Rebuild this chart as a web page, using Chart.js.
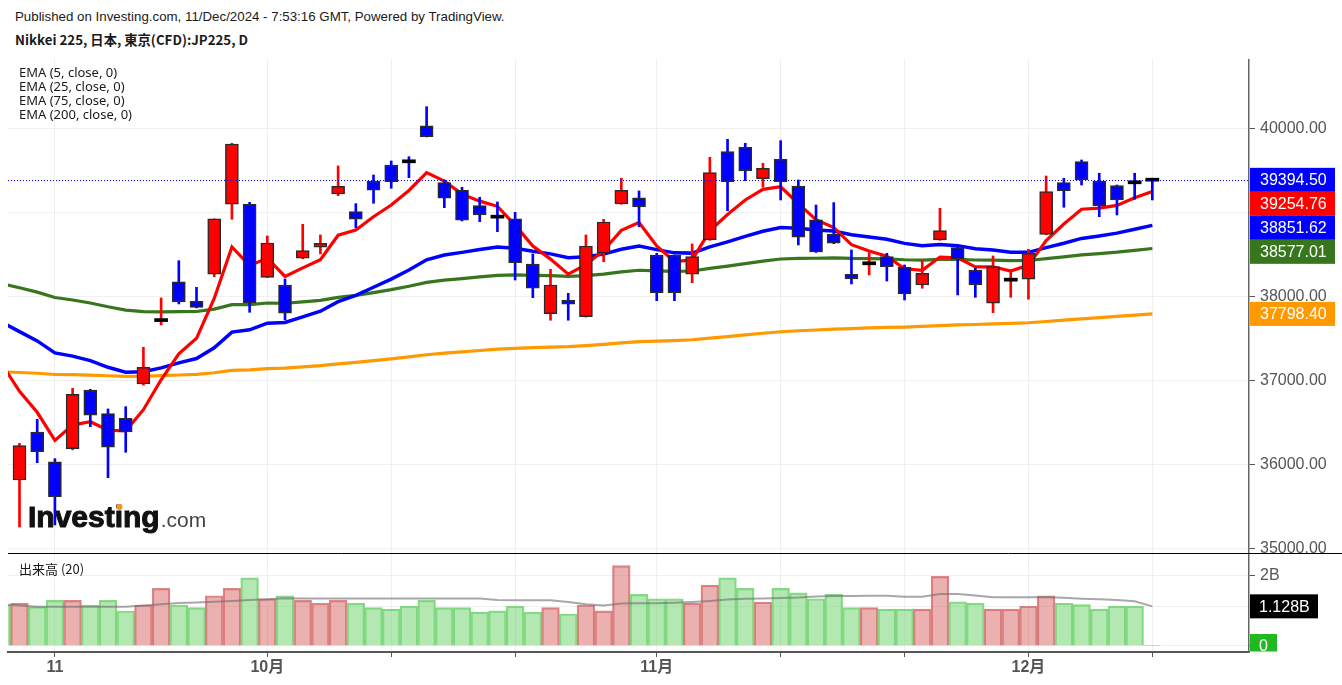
<!DOCTYPE html>
<html>
<head>
<meta charset="utf-8">
<script src="https://cdn.jsdelivr.net/npm/chart.js@4.4.1/dist/chart.umd.min.js"></script>
<style>
  body { margin: 0; background: #fff; width: 1342px; height: 685px; overflow: hidden; position: relative; font-family: "Liberation Sans", Arial, sans-serif; }
  .txt { position: absolute; white-space: nowrap; color: #1a1a1a; }
  #main { position: absolute; left: 0; top: 59px; }
  #vol { position: absolute; left: 0; top: 553px; }
</style>
</head>
<body>
<canvas id="main" width="1342" height="494"></canvas>
<canvas id="vol" width="1342" height="132"></canvas>

<div class="txt" style="left:15px;top:9px;font-size:13.3px;line-height:16px;">Published on Investing.com, 11/Dec/2024 - 7:53:16 GMT, Powered by TradingView.</div>
<div class="txt" style="left:15px;top:32px;font-size:13.3px;line-height:16px;font-weight:bold;font-family:'Noto Sans CJK JP','Noto Sans',sans-serif;">Nikkei 225, 日本, 東京(CFD):JP225, D</div>
<div class="txt" style="left:19px;top:65px;font-size:13px;line-height:14px;font-family:'Noto Sans',sans-serif;">EMA (5, close, 0)<br>EMA (25, close, 0)<br>EMA (75, close, 0)<br>EMA (200, close, 0)</div>
<div class="txt" style="left:19px;top:561px;font-size:13px;line-height:16px;font-family:'Noto Sans CJK JP','Noto Sans',sans-serif;">出来高 (20)</div>

<script>
// ===== dados =====
// candles (índice 0 .. 64, 1 por pregão)
const opens  = [35821, 36393, 36036, 36194, 36893, 36611, 36556, 36964, 37720, 38179,
                37949, 38270, 39104, 39104, 38234, 38143, 38461, 38592, 39226, 39016,
                39381, 39571, 39620, 40036, 39361, 39270, 39087, 38960, 38929, 38393,
                37801, 37964, 37765, 38520, 39107, 39179, 38500, 38500, 38270, 38679,
                39730, 39782, 39408, 39639, 39321, 38917, 38746, 38270, 38398, 38480,
                38354, 38143, 38679, 38587, 38321, 37925, 38203, 38211, 38746, 39361,
                39611, 39381, 39325, 39368, 39398];
const highs  = [36258, 36544, 36075, 36913, 36901, 36667, 36694, 37401, 37988, 38432,
                38115, 38930, 39830, 39127, 38726, 38214, 38865, 38738, 39560, 39111,
                39452, 39619, 39670, 40265, 39393, 39306, 39187, 39131, 39008, 38512,
                38330, 38044, 38738, 38925, 39413, 39262, 38520, 38500, 38631, 39663,
                39877, 39830, 39592, 39861, 39393, 39095, 39123, 38560, 38527, 38520,
                38381, 38432, 39056, 38599, 38342, 38488, 38330, 38568, 39440, 39413,
                39631, 39473, 39333, 39473, 39413];
const lows   = [35262, 36027, 35286, 36180, 36456, 35849, 36151, 36950, 37667, 37917,
                37870, 38242, 38925, 37818, 38230, 37726, 38455, 38512, 39206, 38825,
                39115, 39294, 39420, 39905, 39063, 38905, 38896, 38777, 38202, 37992,
                37723, 37723, 37760, 38420, 39105, 38837, 37956, 37956, 38170, 38675,
                39027, 39385, 39306, 39155, 38619, 38530, 38635, 38155, 38262, 38190,
                37964, 38104, 38675, 38024, 37996, 37813, 37996, 37973, 38740, 39068,
                39333, 38956, 38976, 39163, 39155];
const closes = [36230, 36158, 35623, 36842, 36592, 36211, 36393, 37163, 37730, 37940,
                37877, 38929, 39821, 37929, 38643, 37806, 38551, 38639, 39318, 38925,
                39270, 39373, 39610, 39908, 39175, 38913, 38976, 38952, 38408, 38104,
                38143, 37913, 38607, 38893, 39270, 39071, 38051, 38051, 38480, 39480,
                39373, 39500, 39532, 39373, 38711, 38536, 38639, 38214, 38404, 38361,
                38036, 38282, 38790, 38449, 38143, 38361, 38209, 38520, 39254, 39265,
                39393, 39087, 39155, 39362, 39394.5];

// médias (índice -1 .. 64, começam antes da borda esquerda)
const ema5   = [37200, 36877, 36627, 36292, 36475, 36514, 36413, 36406, 36658, 37014,
                37323, 37508, 37982, 38595, 38373, 38463, 38244, 38346, 38444, 38735,
                38798, 38955, 39094, 39268, 39481, 39379, 39224, 39141, 39079, 38855,
                38605, 38451, 38272, 38384, 38554, 38793, 38886, 38608, 38422, 38441,
                38787, 38982, 39155, 39281, 39312, 39112, 38920, 38826, 38622, 38548,
                38486, 38336, 38318, 38475, 38466, 38358, 38359, 38308, 38379, 38671,
                38869, 39044, 39058, 39090, 39182, 39255];
const ema25  = [37700, 37587, 37477, 37334, 37296, 37242, 37163, 37104, 37109, 37156,
                37216, 37267, 37395, 37582, 37609, 37688, 37697, 37763, 37830, 37944,
                38020, 38116, 38213, 38321, 38443, 38499, 38531, 38565, 38595, 38581,
                38544, 38513, 38467, 38478, 38510, 38568, 38607, 38564, 38525, 38522,
                38596, 38656, 38721, 38783, 38828, 38819, 38797, 38785, 38741, 38715,
                38688, 38638, 38611, 38625, 38611, 38575, 38559, 38532, 38531, 38587,
                38639, 38697, 38727, 38760, 38807, 38852];
const ema75  = [38160, 38109, 38058, 37994, 37964, 37928, 37883, 37844, 37826, 37823,
                37826, 37827, 37856, 37908, 37909, 37928, 37925, 37941, 37959, 37995,
                38019, 38052, 38087, 38127, 38174, 38200, 38219, 38239, 38258, 38262,
                38258, 38255, 38246, 38255, 38272, 38298, 38318, 38311, 38304, 38309,
                38340, 38367, 38397, 38427, 38452, 38459, 38461, 38466, 38459, 38457,
                38454, 38443, 38439, 38448, 38448, 38440, 38438, 38432, 38434, 38456,
                38477, 38501, 38516, 38533, 38555, 38577];
const ema200 = [37110, 37101, 37092, 37077, 37075, 37070, 37062, 37055, 37056, 37063,
                37071, 37079, 37098, 37125, 37133, 37148, 37154, 37168, 37183, 37204,
                37221, 37242, 37263, 37286, 37312, 37331, 37347, 37363, 37379, 37389,
                37396, 37403, 37408, 37420, 37435, 37453, 37469, 37475, 37481, 37491,
                37511, 37529, 37549, 37568, 37586, 37598, 37607, 37617, 37623, 37631,
                37638, 37642, 37649, 37660, 37668, 37672, 37679, 37685, 37693, 37708,
                37724, 37740, 37754, 37768, 37784, 37798];

// volume em bilhões (índice -1 .. 64) e média de 20
const volume = [1.166, 1.215, 1.118, 1.30, 1.30, 1.166, 1.30, 0.996, 1.166, 1.64,
                1.166, 1.09, 1.43, 1.64, 1.94, 1.345, 1.43, 1.30, 1.215, 1.30,
                1.215, 1.09, 1.05, 1.13, 1.30, 1.09, 1.09, 0.96, 1.00, 1.13,
                0.96, 1.09, 0.91, 1.166, 1.00, 2.285, 1.47, 1.345, 1.345, 1.215,
                1.73, 1.94, 1.64, 1.25, 1.64, 1.51, 1.345, 1.47, 1.09, 1.09,
                1.05, 1.05, 1.05, 1.98, 1.26, 1.215, 1.05, 1.05, 1.13, 1.43,
                1.215, 1.175, 1.05, 1.13, 1.13, 0.01];
const volMA  = [1.19, 1.15, 1.12, 1.12, 1.12, 1.12, 1.12, 1.12, 1.15, 1.19,
                1.22, 1.24, 1.26, 1.28, 1.31, 1.33, 1.36, 1.35, 1.35, 1.35,
                1.35, 1.35, 1.35, 1.35, 1.35, 1.35, 1.35, 1.35, 1.31, 1.30,
                1.30, 1.30, 1.25, 1.19, 1.15, 1.21, 1.215, 1.215, 1.23, 1.25,
                1.28, 1.32, 1.345, 1.35, 1.365, 1.38, 1.41, 1.42, 1.42, 1.43,
                1.43, 1.40, 1.40, 1.48, 1.48, 1.44, 1.385, 1.385, 1.385, 1.385,
                1.37, 1.345, 1.33, 1.31, 1.27, 1.128];

// eixo x
const xTicks = [2, 14, 21, 28, 36, 43, 50, 57, 64];
const xTickLabels = ['11', '10月', '', '', '11月', '', '', '12月', ''];
const priceTicks = [35000, 36000, 37000, 38000, 39000, 40000];

// etiquetas do lado direito
const lastLabels = [39394.50, 39254.76, 38851.62, 38577.01, 37798.40];
const lastColors = ['#0000ff', '#ff0000', '#0000ff', '#38761d', '#ff9900'];
const volLastMA = 1.128;

// ===== montagem =====
const RED = '#ff0000', BLUE = '#0000ff';
const FONT = '"Liberation Sans", "Noto Sans CJK JP", Arial, sans-serif';
Chart.defaults.font.family = FONT;

const candleIdx = opens.map((_, i) => i);
const lineIdx = [-1].concat(candleIdx);
const isDoji = i => Math.abs(closes[i] - opens[i]) < 15;
const isUp = i => closes[i] >= opens[i];

const X_MIN = -0.65, X_MAX = 69.46;

const wickData = candleIdx.map(i => ({ x: i, y: [lows[i], highs[i]] }));
const bodyData = candleIdx.map(i => {
    if (isDoji(i)) {
        const m = (opens[i] + closes[i]) / 2;
        return { x: i, y: [m - 18, m + 18] };
    }
    return { x: i, y: [opens[i], closes[i]] };
});
const lineData = arr => lineIdx.map((x, k) => ({ x: x, y: arr[k] }));

function fixY(width) {
    return function(scale) {
        scale.width = width;
        scale.paddingTop = 0;
        scale.paddingBottom = 0;
    };
}
function fixX(height) {
    return function(scale) {
        scale.height = height;
        scale.paddingLeft = 0;
        scale.paddingRight = 0;
    };
}
function setXTicks(scale) {
    scale.ticks = xTicks.map(v => ({ value: v }));
}

function emaLine(arr, color, width, order) {
    return {
        type: 'line',
        data: lineData(arr),
        borderColor: color,
        borderWidth: width,
        pointRadius: 0,
        tension: 0,
        order: order
    };
}

// plugin: logo, linha de preço e etiquetas coloridas
const mainOverlay = {
    id: 'mainOverlay',
    beforeDatasetsDraw(chart) {
        const ctx = chart.ctx;
        ctx.save();
        ctx.textBaseline = 'alphabetic';
        ctx.font = 'bold 30px ' + FONT;
        ctx.fillStyle = '#111';
        ctx.strokeStyle = '#111';
        ctx.lineWidth = 1;
        const baseY = 527 - 59;
        ctx.fillText('Investing', 28, baseY);
        ctx.strokeText('Investing', 28, baseY);
        const w = ctx.measureText('Investing').width;
        ctx.font = '21px ' + FONT;
        ctx.fillStyle = '#444';
        ctx.fillText('.com', 28 + w + 1, baseY);
        ctx.fillStyle = '#f7941d';
        ctx.beginPath();
        ctx.arc(119.5, baseY - 20, 3, 0, Math.PI * 2);
        ctx.fill();
        ctx.restore();
    },
    afterDatasetsDraw(chart) {
        const ctx = chart.ctx, area = chart.chartArea, y = chart.scales.y;
        const py = Math.round(y.getPixelForValue(lastLabels[0])) + 0.5;
        ctx.save();
        ctx.strokeStyle = BLUE;
        ctx.lineWidth = 1;
        ctx.setLineDash([1, 2]);
        ctx.beginPath();
        ctx.moveTo(area.left, py);
        ctx.lineTo(area.right, py);
        ctx.stroke();
        ctx.restore();
    },
    afterDraw(chart) {
        const ctx = chart.ctx, y = chart.scales.y;
        const h = 24;
        let prev = -1e9;
        ctx.save();
        ctx.font = '16px ' + FONT;
        ctx.textBaseline = 'middle';
        lastLabels.forEach((v, k) => {
            let cy = y.getPixelForValue(v);
            cy = Math.max(cy, prev + h);
            prev = cy;
            ctx.fillStyle = lastColors[k];
            ctx.fillRect(1250, cy - h / 2, 85, h);
            ctx.fillStyle = '#fff';
            ctx.fillText(v.toFixed(2), 1260, cy + 1);
        });
        ctx.restore();
    }
};

new Chart(document.getElementById('main'), {
    type: 'bar',
    data: {
        datasets: [
            {
                data: bodyData,
                backgroundColor: candleIdx.map(i => isDoji(i) ? '#000' : (isUp(i) ? RED : BLUE)),
                borderColor: candleIdx.map(i => isDoji(i) ? 'rgba(0,0,0,0)' : '#2a2a2a'),
                borderWidth: candleIdx.map(i => isDoji(i) ? 0 : 1.5),
                borderSkipped: false,
                barThickness: 13,
                grouped: false,
                order: 0
            },
            {
                data: wickData,
                backgroundColor: candleIdx.map(i => isUp(i) ? RED : BLUE),
                borderWidth: 0,
                barThickness: 2,
                grouped: false,
                order: 1
            },
            emaLine(ema5, RED, 3.2, 2),
            emaLine(ema25, BLUE, 3.5, 3),
            emaLine(ema75, '#38761d', 3.2, 4),
            emaLine(ema200, '#ff9900', 3.2, 5)
        ]
    },
    options: {
        responsive: false,
        animation: false,
        events: [],
        layout: { padding: { left: 8, right: 0, top: 0, bottom: 0 } },
        plugins: { legend: { display: false }, tooltip: { enabled: false } },
        scales: {
            x: {
                type: 'linear',
                min: X_MIN,
                max: X_MAX,
                offset: false,
                afterBuildTicks: setXTicks,
                afterFit: fixX(0),
                ticks: { display: false },
                grid: { color: '#efefef', drawTicks: false, offset: false },
                border: { display: false }
            },
            y: {
                position: 'right',
                min: 34952,
                max: 40833,
                afterBuildTicks: s => { s.ticks = priceTicks.map(v => ({ value: v })); },
                afterFit: fixY(93),
                ticks: {
                    callback: v => v.toFixed(2),
                    color: '#555',
                    font: { size: 16 },
                    padding: 5
                },
                grid: { color: '#f0f0f0', tickColor: '#555', tickLength: 6 },
                border: { display: true, color: '#666', width: 1.5 }
            }
        }
    },
    plugins: [mainOverlay]
});

// ===== volume =====
const volOverlay = {
    id: 'volOverlay',
    afterDraw(chart) {
        const ctx = chart.ctx, area = chart.chartArea, y = chart.scales.y;
        ctx.save();
        ctx.strokeStyle = '#000';
        ctx.lineWidth = 1;
        ctx.beginPath();
        ctx.moveTo(8, 0.5);
        ctx.lineTo(1342, 0.5);
        ctx.stroke();

        ctx.font = '16px ' + FONT;
        ctx.textBaseline = 'middle';
        const my = y.getPixelForValue(volLastMA);
        ctx.fillStyle = '#000';
        ctx.fillRect(1250, my - 12, 68, 24);
        ctx.fillStyle = '#fff';
        ctx.fillText(volLastMA.toFixed(3) + 'B', 1259, my + 1);

        ctx.beginPath();
        ctx.rect(1249, 0, 93, area.bottom - 0.5);
        ctx.clip();
        const zy = y.getPixelForValue(0);
        ctx.fillStyle = '#22b822';
        ctx.fillRect(1250, zy - 12, 27, 24);
        ctx.fillStyle = '#fff';
        ctx.fillText('0', 1259, zy + 1);
        ctx.restore();
    }
};

const volUp = lineIdx.map(i => i >= 0 && isUp(i));

new Chart(document.getElementById('vol'), {
    type: 'bar',
    data: {
        datasets: [
            {
                type: 'line',
                data: lineData(volMA),
                borderColor: 'rgba(110,110,110,0.6)',
                borderWidth: 2,
                pointRadius: 0,
                tension: 0,
                order: 0
            },
            {
                data: lineData(volume),
                backgroundColor: volUp.map(u => u ? 'rgba(210,80,80,0.45)' : 'rgba(110,210,110,0.52)'),
                borderColor: volUp.map(u => u ? 'rgba(205,85,85,0.7)' : 'rgba(95,205,95,0.75)'),
                borderWidth: 1.5,
                barPercentage: 1,
                categoryPercentage: 1,
                order: 1
            }
        ]
    },
    options: {
        responsive: false,
        animation: false,
        events: [],
        layout: { padding: { left: 8, right: 0, top: 0, bottom: 0 } },
        plugins: { legend: { display: false }, tooltip: { enabled: false } },
        scales: {
            x: {
                type: 'linear',
                min: X_MIN,
                max: X_MAX,
                offset: false,
                afterBuildTicks: setXTicks,
                afterFit: fixX(33),
                ticks: {
                    autoSkip: false,
                    maxRotation: 0,
                    color: '#555',
                    font: { size: 16, weight: 'bold' },
                    padding: 1,
                    callback: v => xTickLabels[xTicks.indexOf(v)]
                },
                grid: { color: '#efefef', tickColor: '#555', tickLength: 5, offset: false },
                border: { display: true, color: '#555', width: 2 }
            },
            y: {
                position: 'right',
                min: -0.171,
                max: 2.646,
                afterBuildTicks: s => { s.ticks = [0, volLastMA, 2].map(v => ({ value: v })); },
                afterFit: fixY(93),
                ticks: {
                    callback: v => v === 2 ? '2B' : '',
                    color: '#555',
                    font: { size: 16 },
                    padding: 5
                },
                grid: { color: '#f0f0f0', tickColor: '#555', tickLength: 6 },
                border: { display: true, color: '#666', width: 1.5 }
            }
        }
    },
    plugins: [volOverlay]
});
</script>
</body>
</html>
